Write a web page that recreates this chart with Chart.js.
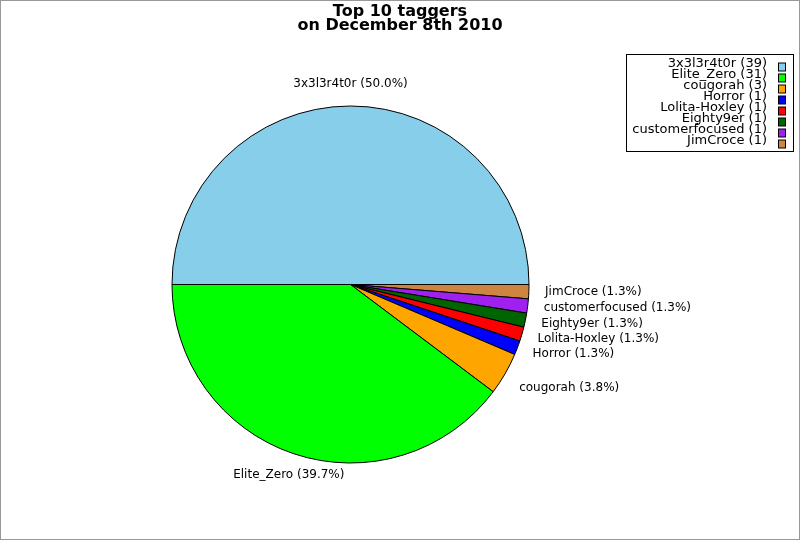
<!DOCTYPE html>
<html><head><meta charset="utf-8">
<script src="https://cdn.jsdelivr.net/npm/chart.js@4.4.1/dist/chart.umd.min.js"></script>
<style>html,body{margin:0;padding:0;background:#fff}canvas{display:block}</style>
</head><body>
<canvas id="c" width="800" height="540"></canvas>
<script>
const titleLines = ['Top 10 taggers', 'on December 8th 2010'];
const taggers = ['3x3l3r4t0r', 'Elite_Zero', 'cougorah', 'Horror', 'Lolita-Hoxley', 'Eighty9er', 'customerfocused', 'JimCroce'];
const counts = [39, 31, 3, 1, 1, 1, 1, 1];
const colors = ['#87CEEB', '#00FF00', '#FFA500', '#0000FF', '#FF0000', '#006400', '#A020F0', '#CD853F'];

const total = counts.reduce((a, b) => a + b, 0);
// reference runs counter-clockwise from 3 o'clock; Chart.js runs clockwise, so reverse
const pieLabels = taggers.slice().reverse();
const pieData = counts.slice().reverse();
const pieColors = colors.slice().reverse();

const FONT = '"DejaVu Sans", "Liberation Sans", sans-serif';

const decor = {
  id: 'decor',
  afterDatasetsDraw(chart) {
    const ctx = chart.ctx;
    const meta = chart.getDatasetMeta(0);
    ctx.save();
    ctx.font = '12px ' + FONT;
    ctx.fillStyle = '#000';
    meta.data.forEach((arc, i) => {
      const p = arc.getProps(['x', 'y', 'startAngle', 'endAngle', 'outerRadius'], true);
      const mid = (p.startAngle + p.endAngle) / 2;
      const r = p.outerRadius * 1.091;
      const cx = p.x + Math.cos(mid) * r;
      const cy = p.y + Math.sin(mid) * r;
      const c = Math.cos(mid), s = Math.sin(mid);
      ctx.textAlign = c > 0.5 ? 'left' : (c < -0.5 ? 'right' : 'center');
      ctx.textBaseline = s > 0.45 ? 'top' : (s < -0.45 ? 'bottom' : 'middle');
      const pct = (pieData[i] / total * 100).toFixed(1);
      ctx.fillText(pieLabels[i] + ' (' + pct + '%)', cx, cy);
    });
    ctx.restore();
  },
  afterDraw(chart) {
    const ctx = chart.ctx;
    ctx.save();
    // outer frame
    ctx.strokeStyle = '#999';
    ctx.lineWidth = 1;
    ctx.strokeRect(0.5, 0.5, 799, 539);
    // title
    ctx.fillStyle = '#000';
    ctx.font = 'bold 16px ' + FONT;
    ctx.textAlign = 'center';
    ctx.textBaseline = 'alphabetic';
    titleLines.forEach((t, i) => ctx.fillText(t, 400, 16 + i * 14));
    // legend
    ctx.strokeStyle = '#000';
    ctx.strokeRect(626.5, 54.5, 167, 97);
    ctx.font = '13px ' + FONT;
    ctx.textAlign = 'right';
    ctx.textBaseline = 'middle';
    taggers.forEach((t, i) => {
      const y = 63.5 + i * 11;
      ctx.fillStyle = '#000';
      ctx.fillText(t + ' (' + counts[i] + ')', 767, y);
      ctx.fillStyle = colors[i];
      ctx.fillRect(778.5, y - 0.5, 7, 8);
      ctx.strokeRect(778.5, y - 0.5, 7, 8);
    });
    ctx.restore();
  }
};

new Chart(document.getElementById('c'), {
  type: 'pie',
  data: {
    labels: pieLabels,
    datasets: [{
      data: pieData,
      backgroundColor: pieColors,
      borderColor: '#000',
      borderWidth: 1,
      borderAlign: 'center'
    }]
  },
  options: {
    responsive: false,
    animation: false,
    rotation: 90,
    layout: { padding: { left: 171.5, right: 270.5, top: 105.5, bottom: 76.5 } },
    plugins: {
      legend: { display: false },
      title: { display: false },
      tooltip: { enabled: false }
    }
  },
  plugins: [decor]
});
</script>
</body></html>
